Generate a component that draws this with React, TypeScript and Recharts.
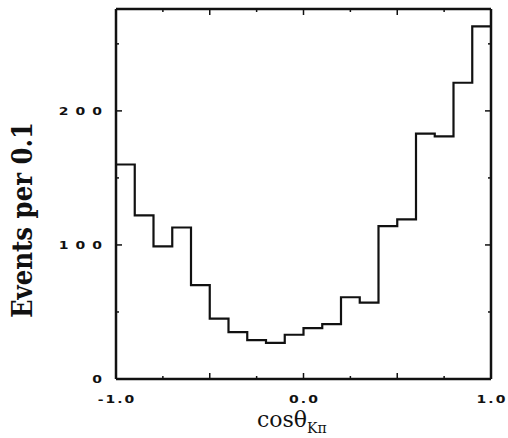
import React from "react";
import { ComposedChart, Line, XAxis, YAxis } from "recharts";

// histogram of cos(theta_K pi), bins of 0.1
const binStarts = [-1.0, -0.9, -0.8, -0.7, -0.6, -0.5, -0.4, -0.3, -0.2, -0.1, 0.0, 0.1, 0.2, 0.3, 0.4, 0.5, 0.6, 0.7, 0.8, 0.9];
const counts = [160, 122, 99, 113, 70, 45, 35, 29, 27, 33, 38, 41, 61, 57, 114, 119, 183, 181, 221, 263];
const xTicks = [-1.0, -0.75, -0.5, -0.25, 0.0, 0.25, 0.5, 0.75, 1.0];
const yTicks = [0, 50, 100, 150, 200, 250];
const xMax = 1.0;

// step line needs the closing edge of the last bin
const data = [
  ...binStarts.map((x, i) => ({ x, count: counts[i] })),
  { x: xMax, count: counts[counts.length - 1] },
];

const INK = "#111";
const tickFont = "'DejaVu Sans', sans-serif";

const isMajorX = (v: number) => Math.abs(v * 2 - Math.round(v * 2)) < 1e-6;
const isLabelX = (v: number) => Math.abs(v - Math.round(v)) < 1e-6;
const isMajorY = (v: number) => v % 100 === 0;

// the scan is squashed vertically, so tick digits are wide and short
const SquashedText = ({ x, y, anchor, spacing, children }: any) => (
  <text
    transform={`translate(${x} ${y}) scale(1 0.72)`}
    textAnchor={anchor}
    fontFamily={tickFont}
    fontWeight="bold"
    fontSize={14}
    letterSpacing={spacing}
    fill={INK}
  >
    {children}
  </text>
);

const BottomTick = ({ x, y, payload }: any) => {
  const v = payload.value;
  return (
    <g>
      <line x1={x} x2={x} y1={y} y2={y - (isMajorX(v) ? 6 : 3)} stroke={INK} strokeWidth={1.5} />
      {isLabelX(v) && (
        <SquashedText x={x + 1} y={y + 24} anchor="middle" spacing={2}>
          {v.toFixed(1)}
        </SquashedText>
      )}
    </g>
  );
};

const TopTick = ({ x, y, payload }: any) => (
  <line x1={x} x2={x} y1={y} y2={y + (isMajorX(payload.value) ? 6 : 3)} stroke={INK} strokeWidth={1.5} />
);

const LeftTick = ({ x, y, payload }: any) => {
  const v = payload.value;
  return (
    <g>
      <line x1={x} x2={x + (isMajorY(v) ? 6 : 3)} y1={y} y2={y} stroke={INK} strokeWidth={1.5} />
      {isMajorY(v) && (
        <SquashedText x={x - 7} y={y + 4} anchor="end" spacing={7}>
          {String(v)}
        </SquashedText>
      )}
    </g>
  );
};

const RightTick = ({ x, y, payload }: any) => (
  <line x1={x} x2={x - (isMajorY(payload.value) ? 6 : 3)} y1={y} y2={y} stroke={INK} strokeWidth={1.5} />
);

const YTitle = () => {
  const cx = 32;
  const cy = 220;
  return (
    <text
      x={cx}
      y={cy}
      transform={`rotate(-90 ${cx} ${cy})`}
      textAnchor="middle"
      textLength={196}
      lengthAdjust="spacingAndGlyphs"
      fontFamily="'DejaVu Serif', serif"
      fontWeight="bold"
      fontSize={28}
      fill={INK}
    >
      Events per 0.1
    </text>
  );
};

const XTitle = () => (
  <text x={257} y={427} textAnchor="start" fontFamily="'DejaVu Serif', serif" fontSize={22} fill={INK}>
    cosθ<tspan fontSize={14} dy={6}>Kπ</tspan>
  </text>
);

export default function App() {
  return (
    <div style={{ position: "absolute", left: 0, top: 0, background: "#fff" }}>
      <ComposedChart width={508} height={438} data={data} margin={{ top: 8, right: 16, bottom: 0, left: 0 }}>
        <XAxis
          dataKey="x"
          type="number"
          domain={[-1, 1]}
          ticks={xTicks}
          interval={0}
          height={59}
          tickSize={0}
          tickMargin={0}
          tickLine={false}
          axisLine={{ stroke: INK, strokeWidth: 2.5 }}
          tick={<BottomTick />}
          label={<XTitle />}
        />
        <XAxis
          xAxisId="top"
          dataKey="x"
          orientation="top"
          type="number"
          domain={[-1, 1]}
          ticks={xTicks}
          interval={0}
          height={1}
          tickSize={0}
          tickMargin={0}
          tickLine={false}
          axisLine={{ stroke: INK, strokeWidth: 2.5 }}
          tick={<TopTick />}
        />
        <YAxis
          type="number"
          domain={[0, 276]}
          ticks={yTicks}
          interval={0}
          width={116}
          tickSize={0}
          tickMargin={0}
          tickLine={false}
          axisLine={{ stroke: INK, strokeWidth: 2.5 }}
          tick={<LeftTick />}
          label={<YTitle />}
        />
        <YAxis
          yAxisId="r"
          orientation="right"
          type="number"
          domain={[0, 276]}
          ticks={yTicks}
          interval={0}
          width={1}
          tickSize={0}
          tickMargin={0}
          tickLine={false}
          axisLine={{ stroke: INK, strokeWidth: 2.5 }}
          tick={<RightTick />}
        />
        {/* invisible copy so the top and right frame axes get drawn */}
        <Line
          xAxisId="top"
          yAxisId="r"
          type="stepAfter"
          dataKey="count"
          stroke="none"
          dot={false}
          activeDot={false}
          legendType="none"
          isAnimationActive={false}
        />
        <Line
          type="stepAfter"
          dataKey="count"
          stroke={INK}
          strokeWidth={2.2}
          dot={false}
          isAnimationActive={false}
        />
      </ComposedChart>
    </div>
  );
}
